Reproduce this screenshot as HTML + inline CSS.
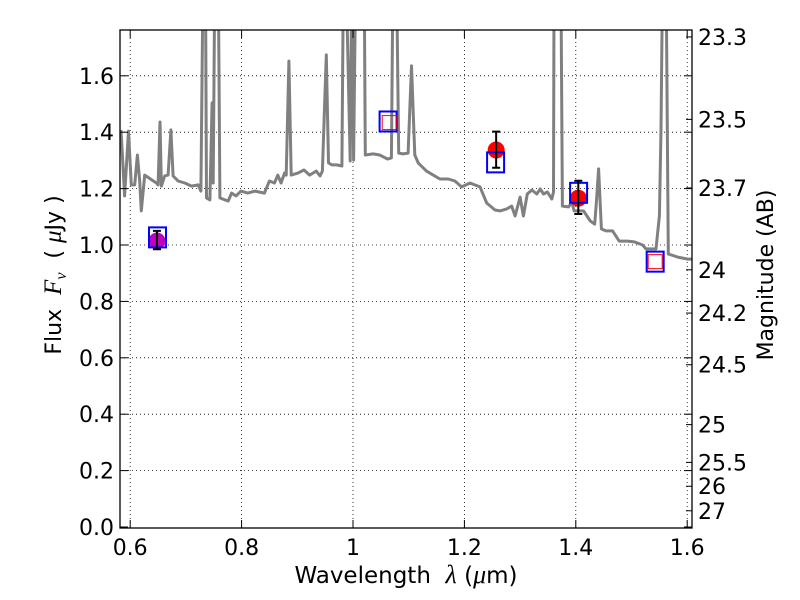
<!DOCTYPE html>
<html><head><meta charset="utf-8"><style>
body{margin:0;background:#fff;}
svg{display:block;font-family:"DejaVu Sans","Liberation Sans",sans-serif;}
</style></head><body>
<svg id="chart" width="800" height="600" viewBox="0 0 800 600">
<rect width="800" height="600" fill="#fff"/>
<defs><clipPath id="plotclip"><rect x="120" y="30" width="572" height="498"/></clipPath></defs>
<g id="grid"></g>
<g id="spec" clip-path="url(#plotclip)"></g>
<g id="marks"></g>
<rect x="120" y="30" width="572" height="498" fill="none" stroke="#000" stroke-width="1.3"/>
<g id="axes"></g>
<text x="406" y="583" text-anchor="middle" font-size="23" xml:space="preserve">Wavelength  <tspan font-style="italic" font-family="Liberation Serif, serif" font-size="26">λ</tspan> (<tspan font-style="italic" font-family="Liberation Serif, serif" font-size="26">μ</tspan>m)</text>
<text transform="translate(61,275) rotate(-90)" text-anchor="middle" font-size="22" xml:space="preserve">Flux  <tspan font-style="italic" font-family="Liberation Serif, serif" font-size="25">F</tspan><tspan font-style="italic" font-family="Liberation Serif, serif" font-size="16" dy="5">ν</tspan><tspan dy="-5">  ( </tspan><tspan font-style="italic" font-family="Liberation Serif, serif" font-size="25">μ</tspan>Jy )</text>
<text transform="translate(773,275) rotate(-90)" text-anchor="middle" font-size="22">Magnitude (AB)</text>
</svg>
<script>
const specWave=[0.5835,0.590,0.597,0.602,0.608,0.613,0.617,0.620,0.626,0.647,0.650,0.6535,0.656,0.662,0.668,0.673,0.677,0.686,0.698,0.710,0.722,0.727,0.731,0.735,0.737,0.743,0.747,0.749,0.752,0.758,0.761,0.770,0.776,0.782,0.790,0.799,0.811,0.824,0.841,0.850,0.859,0.865,0.871,0.877,0.880,0.885,0.889,0.901,0.912,0.922,0.934,0.941,0.945,0.952,0.956,0.962,0.971,0.980,0.983,0.987,0.995,0.998,1.001,1.005,1.020,1.022,1.036,1.048,1.062,1.069,1.072,1.078,1.082,1.090,1.099,1.105,1.111,1.117,1.132,1.144,1.156,1.171,1.183,1.195,1.210,1.228,1.240,1.255,1.264,1.276,1.285,1.291,1.300,1.306,1.313,1.321,1.330,1.336,1.342,1.349,1.357,1.360,1.361,1.373,1.376,1.387,1.393,1.397,1.414,1.426,1.434,1.437,1.441,1.446,1.454,1.466,1.478,1.493,1.505,1.520,1.526,1.544,1.550,1.553,1.556,1.562,1.566,1.583,1.601,1.609];
const specFlux=[1.408,1.174,1.404,1.213,1.213,1.319,1.227,1.121,1.248,1.220,1.213,1.436,1.209,1.245,1.248,1.408,1.245,1.227,1.220,1.209,1.213,1.191,2.0,2.0,1.167,1.160,1.504,1.220,2.0,2.0,1.167,1.160,1.156,1.184,1.174,1.191,1.184,1.191,1.184,1.227,1.220,1.248,1.220,1.255,1.248,1.652,1.248,1.255,1.266,1.248,1.262,1.245,1.262,1.674,1.291,1.284,1.284,1.280,2.0,2.0,1.298,2.0,1.301,2.0,2.0,1.319,1.323,1.319,1.305,1.309,2.0,2.0,1.326,1.323,1.326,1.635,1.319,1.291,1.262,1.248,1.234,1.234,1.227,1.206,1.220,1.206,1.149,1.124,1.121,1.128,1.138,1.103,1.170,1.103,1.181,1.195,1.181,1.199,1.181,1.188,1.163,1.188,2.0,2.0,1.138,1.135,1.152,1.121,1.121,1.085,1.074,1.152,1.270,1.057,1.050,1.050,1.014,1.014,1.011,1.000,0.986,0.986,1.103,1.411,2.0,2.0,0.968,0.957,0.950,0.950];
const sqWave=[0.649,1.063,1.256,1.405,1.5425];
const sqFlux=[1.027,1.438,1.293,1.185,0.941];
const redSqWave=[1.065,1.5425];
const redSqFlux=[1.434,0.941];
const ptWave=[0.648,1.257,1.4045];
const ptFlux=[1.014,1.337,1.166];
const ptErrLo=[0.985,1.274,1.110];
const ptErrHi=[1.050,1.402,1.228];
const ptColor=['#bf00bf','#ff0000','#ff0000'];
const xTicks=[0.6,0.8,1.0,1.2,1.4,1.6];
const xTickLabels=['0.6','0.8','1','1.2','1.4','1.6'];
const yTicks=[0,0.2,0.4,0.6,0.8,1.0,1.2,1.4,1.6];
const yTickLabels=['0.0','0.2','0.4','0.6','0.8','1.0','1.2','1.4','1.6'];
const magTicks=[23.3,23.5,23.7,24,24.2,24.5,25,25.5,26,27];
const magTickLabels=['23.3','23.5','23.7','24','24.2','24.5','25','25.5','26','27'];

const NS='http://www.w3.org/2000/svg';
function X(l){return 130.2+(l-0.6)*557;}
function Y(f){return 527-f*282;}
function magToFlux(m){return Math.pow(10,(23.9-m)/2.5);}
function mk(tag,attrs,parent){const e=document.createElementNS(NS,tag);for(const k in attrs)e.setAttribute(k,attrs[k]);parent.appendChild(e);return e;}
const grid=document.getElementById('grid'),axes=document.getElementById('axes'),spec=document.getElementById('spec'),marks=document.getElementById('marks');

xTicks.forEach((t,i)=>{
  const x=X(t);
  const g=mk('line',{x1:x,x2:x,y1:30,y2:528,stroke:'#000','stroke-width':0.8,'stroke-dasharray':'1,3'},grid);
  
  
  mk('line',{x1:x,x2:x,y1:528,y2:520,stroke:'#000'},axes);
  mk('line',{x1:x,x2:x,y1:30,y2:38,stroke:'#000'},axes);
  const tx=mk('text',{x:x,y:555,'text-anchor':'middle','font-size':22},axes);
  tx.textContent=xTickLabels[i];
  
  
});
yTicks.forEach((t,i)=>{
  const y=Y(t);
  if(t>0){const g=mk('line',{x1:120,x2:692,y1:y,y2:y,stroke:'#000','stroke-width':0.8,'stroke-dasharray':'1,3'},grid);
  
  }
  mk('line',{x1:120,x2:128,y1:y,y2:y,stroke:'#000'},axes);
  mk('line',{x1:692,x2:684,y1:y,y2:y,stroke:'#000'},axes);
  const tx=mk('text',{x:114,y:y+8,'text-anchor':'end','font-size':22},axes);
  tx.textContent=yTickLabels[i];
  
  
});
magTicks.forEach((m,i)=>{
  const y=Y(magToFlux(m));
  mk('line',{x1:692,x2:686,y1:y,y2:y,stroke:'#000'},axes);
  const tx=mk('text',{x:698,y:y+8,'text-anchor':'start','font-size':22},axes);
  tx.textContent=magTickLabels[i];
  
  
});

let d='';
specWave.forEach((w,i)=>{d+=(i?'L':'M')+X(w).toFixed(1)+','+Y(specFlux[i]).toFixed(1);});
const sp=mk('path',{d:d,fill:'none',stroke:'#808080','stroke-width':3,'stroke-linejoin':'round'},spec);



ptWave.forEach((w,i)=>{
  const c=mk('circle',{cx:X(w),cy:Y(ptFlux[i]),r:8.5,fill:ptColor[i]},marks);
  
  
});
sqWave.forEach((w,i)=>{
  const s=mk('rect',{x:X(w)-8.5,y:Y(sqFlux[i])-10,width:17,height:20,fill:'none',stroke:'#0000ff','stroke-width':2},marks);
  
  
});
redSqWave.forEach((w,i)=>{
  const s=mk('rect',{x:X(w)-7,y:Y(redSqFlux[i])-7,width:14,height:14,fill:'none',stroke:'#ff0000','stroke-width':1},marks);
  
  
});
ptWave.forEach((w,i)=>{
  const x=X(w),y1=Y(ptErrLo[i]),y2=Y(ptErrHi[i]);
  const e=mk('path',{d:`M${x},${y1}L${x},${y2}M${x-4},${y1}L${x+4},${y1}M${x-4},${y2}L${x+4},${y2}`,stroke:'#000','stroke-width':2,fill:'none'},marks);
  
  
});
</script>
</body></html>
